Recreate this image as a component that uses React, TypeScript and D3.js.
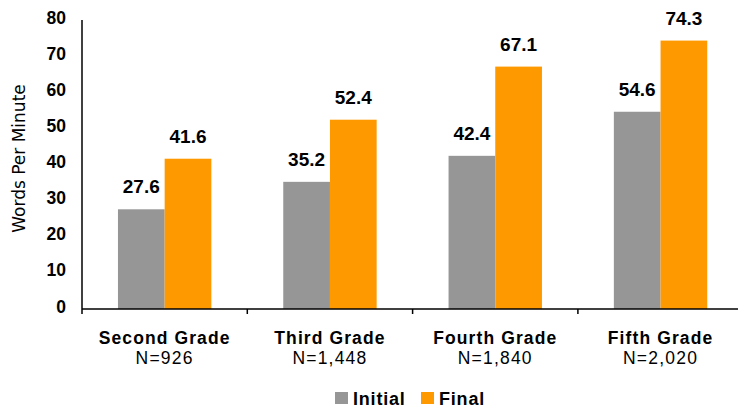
import React from "react";
import * as d3 from "d3";

const categories = ["Second Grade", "Third Grade", "Fourth Grade", "Fifth Grade"];
const nLabels = ["N=926", "N=1,448", "N=1,840", "N=2,020"];
const initialValues = [27.6, 35.2, 42.4, 54.6];
const finalValues = [41.6, 52.4, 67.1, 74.3];
const seriesNames = ["Initial", "Final"];
const yTicks = [0, 10, 20, 30, 40, 50, 60, 70, 80];

const W = 738, H = 409;
const left = 82, top = 20, bottom = 309;
const band = 165.3;
const colors = ["#969696", "#FF9900"];

export default function App() {
  const x = d3.scaleBand<string>().domain(categories).range([left, left + band * categories.length]).paddingInner(0).paddingOuter(0);
  const y = d3.scaleLinear().domain([0, 80]).range([bottom, top]);
  const inner = d3.scaleBand<string>().domain(seriesNames).range([0, band]).paddingInner(0).paddingOuter(0.77);
  const series = [initialValues, finalValues];
  const numFont = "'Liberation Sans', Arial, sans-serif";
  const labFont = "'DejaVu Sans', Verdana, sans-serif";
  return (
    <svg width={W} height={H} style={{ position: "absolute", left: 0, top: 0 }}>
      <rect width={W} height={H} fill="#fff" />
      {categories.map((c, i) =>
        series.map((vals, s) => {
          const bx = (x(c) as number) + (inner(seriesNames[s]) as number);
          const bw = inner.bandwidth();
          return (
            <g key={c + s}>
              <rect x={bx} y={y(vals[i])} width={bw} height={y(0) - y(vals[i])} fill={colors[s]} />
              <text x={bx + bw / 2} y={y(vals[i]) - 16} textAnchor="middle" fontFamily={numFont} fontWeight="bold" fontSize={19} fill="#000">
                {vals[i].toFixed(1)}
              </text>
            </g>
          );
        })
      )}
      <line x1={left} x2={left} y1={top} y2={bottom} stroke="#000" strokeWidth={1.5} />
      <line x1={left} x2={W} y1={bottom} y2={bottom} stroke="#000" strokeWidth={1.5} />
      {categories.map((c, i) => (
        <line key={"t" + i} x1={x(c)} x2={x(c)} y1={bottom} y2={bottom + 5} stroke="#000" strokeWidth={1.5} />
      ))}
      {yTicks.map((t) => (
        <text key={t} x={66} y={y(t) + 3.5} textAnchor="end" fontFamily={numFont} fontWeight="bold" fontSize={17.5} fill="#000">
          {t}
        </text>
      ))}
      <text transform={`translate(25,${(top + bottom) / 2 - 6}) rotate(-90)`} textAnchor="middle" fontFamily={labFont} fontSize={17} fill="#000">
        Words Per Minute
      </text>
      {categories.map((c, i) => (
        <g key={"c" + i}>
          <text x={(x(c) as number) + band / 2} y={344} textAnchor="middle" fontFamily={numFont} fontWeight="bold" fontSize={17.5} letterSpacing={1.1} fill="#000">
            {c}
          </text>
          <text x={(x(c) as number) + band / 2} y={364} textAnchor="middle" fontFamily={numFont} fontSize={17.5} letterSpacing={1.2} fill="#000">
            {nLabels[i]}
          </text>
        </g>
      ))}
      {seriesNames.map((s, i) => {
        const lx = i === 0 ? 335 : 421;
        return (
          <g key={s}>
            <rect x={lx} y={392} width={13} height={12} fill={colors[i]} />
            <text x={lx + 18} y={405} fontFamily={numFont} fontWeight="bold" fontSize={18} letterSpacing={0.8} fill="#000">
              {s}
            </text>
          </g>
        );
      })}
    </svg>
  );
}
